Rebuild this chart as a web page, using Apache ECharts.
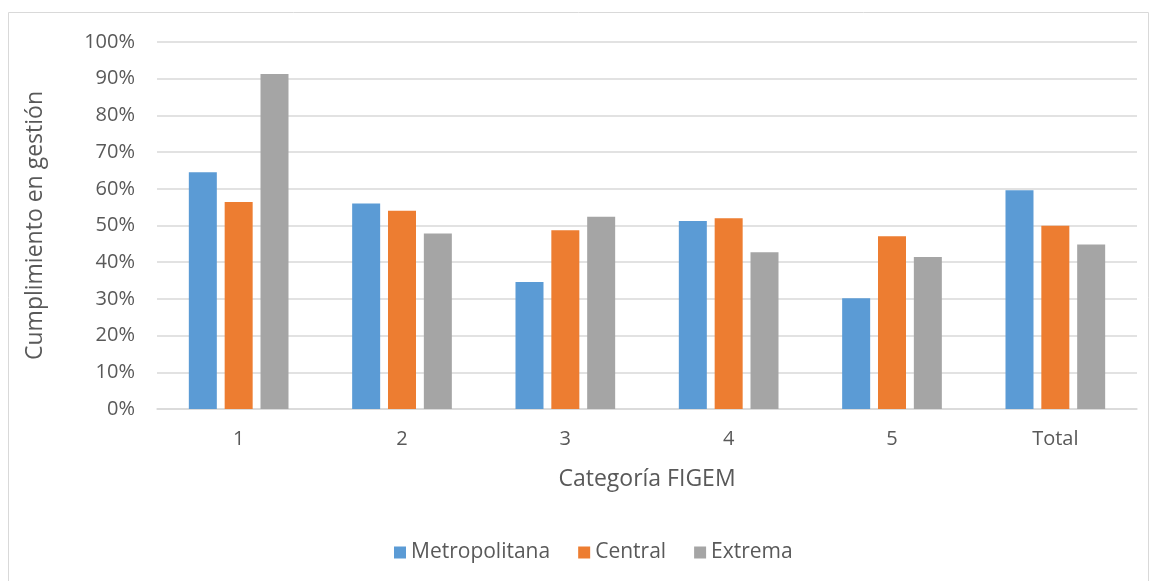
<!DOCTYPE html>
<html><head><meta charset="utf-8">
<script src="https://cdn.jsdelivr.net/npm/echarts@6/dist/echarts.min.js"></script>
<style>html,body{margin:0;padding:0;background:#fff}#c{width:1153px;height:581px}</style>
</head><body><div id="c"></div>
<script>
const categories = ['1','2','3','4','5','Total'];
const metropolitana = [64.5, 56.0, 34.6, 51.2, 30.2, 59.6];
const central = [56.4, 54.0, 48.7, 52.0, 47.1, 49.9];
const extrema = [91.3, 47.8, 52.4, 42.7, 41.4, 44.8];
const yTicks = [0,10,20,30,40,50,60,70,80,90,100];

const font = 'Open Sans';
const txt = '#595959';
const chart = echarts.init(document.getElementById('c'));
function s(name, data, color){
  return {name, type:'bar', data, barWidth:28, barGap:'28%', itemStyle:{color}};
}
chart.setOption({
  animation:false,
  graphic:[{type:'rect', shape:{x:8.5,y:12.5,width:1140,height:570}, style:{fill:'none', stroke:'#d9d9d9', lineWidth:1}}],
  grid:{left:157, right:16, top:42, bottom:172},
  legend:{bottom:13, left:389, itemWidth:12, itemHeight:12, itemGap:28, icon:'rect',
    textStyle:{color:txt, fontFamily:font, fontSize:21}, data:['Metropolitana','Central','Extrema']},
  xAxis:{type:'category', data:categories, name:'Categoría FIGEM', nameLocation:'middle', nameGap:59,
    nameTextStyle:{color:txt, fontFamily:font, fontSize:23},
    axisLine:{lineStyle:{color:'#d9d9d9', width:1.5}}, axisTick:{show:false},
    axisLabel:{color:txt, fontFamily:font, fontSize:20, margin:20}},
  yAxis:{type:'value', min:0, max:100, interval:10, name:'Cumplimiento en gestión', nameLocation:'middle', nameGap:110,
    nameTextStyle:{color:txt, fontFamily:font, fontSize:23},
    axisLabel:{color:txt, fontFamily:font, fontSize:20, margin:22, formatter:v=>v+'%'},
    axisLine:{show:false}, axisTick:{show:false},
    splitLine:{lineStyle:{color:'#d9d9d9', width:1.5}}},
  series:[s('Metropolitana', metropolitana, '#5b9bd5'), s('Central', central, '#ed7d31'), s('Extrema', extrema, '#a5a5a5')]
});
</script></body></html>
